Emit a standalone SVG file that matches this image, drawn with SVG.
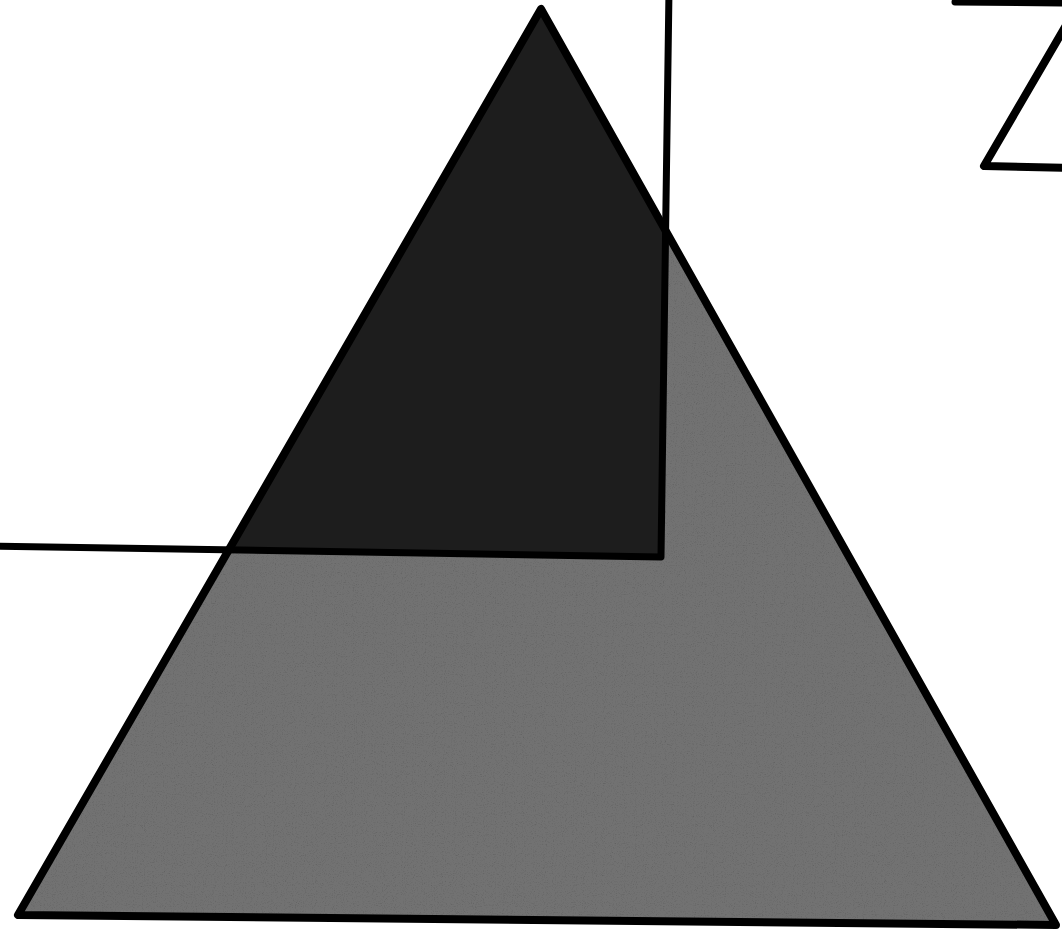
<svg xmlns="http://www.w3.org/2000/svg" width="1062" height="935" viewBox="0 0 1062 935">
  <style>
    .edge { fill: none; stroke: #000; stroke-width: 8; stroke-linejoin: round; stroke-linecap: round; }
    .thin { fill: none; stroke: #000; stroke-width: 7; stroke-linejoin: round; stroke-linecap: round; }
  </style>
  <defs>
    <clipPath id="rectClip">
      <polygon points="-50,-50 669,-50 661,557 -50,544"/>
    </clipPath>
    <filter id="grain" x="0" y="0" width="100%" height="100%">
      <feTurbulence type="fractalNoise" baseFrequency="0.9" numOctaves="2" seed="3" result="n"/>
      <feColorMatrix in="n" type="matrix" values="0 0 0 0 0  0 0 0 0 0  0 0 0 0 0  0.33 0.33 0.33 0 -0.5" result="dots"/>
      <feComposite in="dots" in2="SourceGraphic" operator="in" result="d"/>
      <feMerge><feMergeNode in="SourceGraphic"/><feMergeNode in="d"/></feMerge>
    </filter>
  </defs>
  <rect width="1062" height="935" fill="#fff"/>
  <g id="pyramid">
    <polygon points="541,9 18,915 1056,925" fill="#727272" filter="url(#grain)"/>
    <polygon points="541,9 18,915 1056,925" fill="#1d1d1d" clip-path="url(#rectClip)"/>
  </g>
  <g id="frame">
    <polyline class="thin" points="669,-10 661,557 -10,546"/>
  </g>
  <g id="pyramid-outline">
    <polygon class="edge" points="541,9 18,915 1056,925"/>
  </g>
  <g id="corner-triangle">
    <polyline class="thin" points="955,2 1070,3"/>
    <polyline class="edge" points="1075,10 984,166 1070,168"/>
  </g>
</svg>
